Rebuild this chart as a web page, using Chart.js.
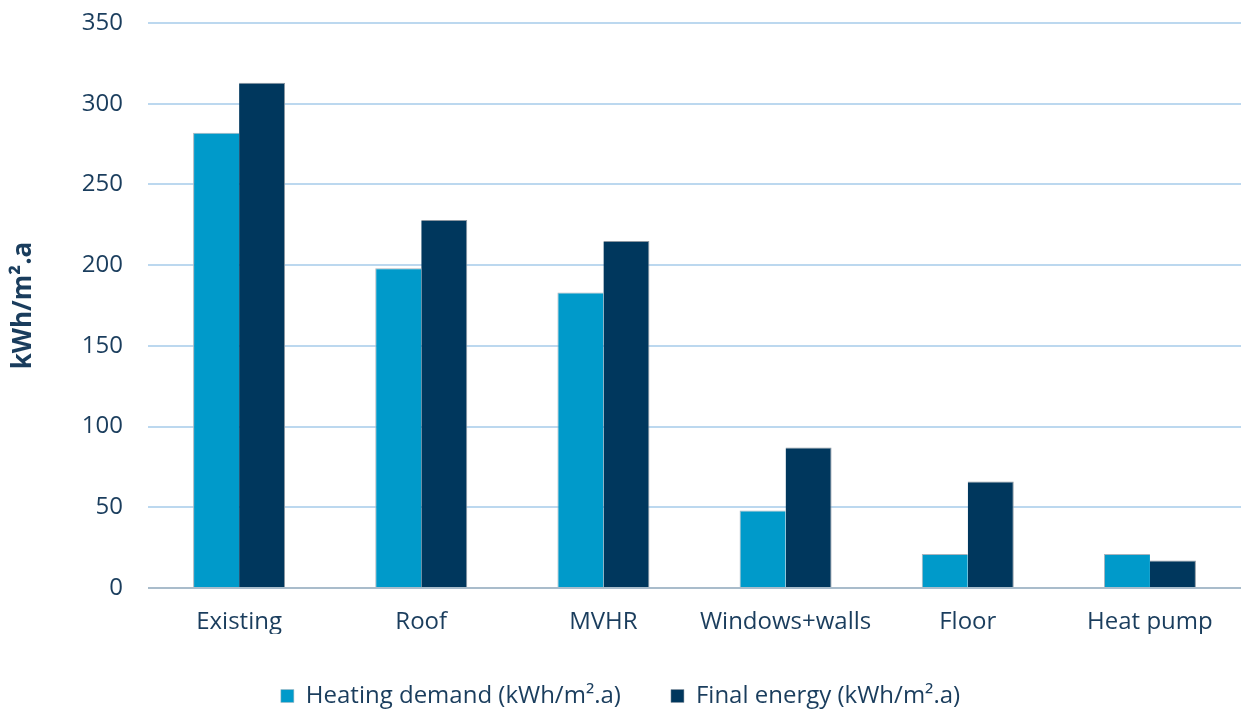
<!DOCTYPE html>
<html>
<head>
<meta charset="utf-8">
<title>Energy demand by retrofit step</title>
<script src="https://cdn.jsdelivr.net/npm/chart.js@4/dist/chart.umd.min.js"></script>
<style>
  html, body { margin: 0; padding: 0; background: #ffffff; }
  #wrap { width: 1241px; height: 711px; }
</style>
</head>
<body>
<div id="wrap"><canvas id="chart" width="1241" height="711"></canvas></div>
<script>
// Retrofit steps along the x axis
const categories = ['Existing', 'Roof', 'MVHR', 'Windows+walls', 'Floor', 'Heat pump'];

// Values in kWh/m².a
const heatingDemand = [282, 198, 183, 48, 21, 21];
const finalEnergy = [313, 228, 215, 87, 66, 17];

const seriesNames = ['Heating demand (kWh/m².a)', 'Final energy (kWh/m².a)'];
const yTicks = [0, 50, 100, 150, 200, 250, 300, 350];
const yTitle = 'kWh/m².a';

const textColor = '#1a3d5d';
const fontFamily = '"Open Sans", "Noto Sans", sans-serif';

new Chart(document.getElementById('chart'), {
  type: 'bar',
  data: {
    labels: categories,
    datasets: [
      {
        label: seriesNames[0],
        data: heatingDemand,
        backgroundColor: '#009aca',
        borderColor: '#a9b4bd',
        borderWidth: { top: 1, left: 1, right: 0, bottom: 0 },
        borderSkipped: 'bottom'
      },
      {
        label: seriesNames[1],
        data: finalEnergy,
        backgroundColor: '#00375d',
        borderColor: '#8c97a1',
        borderWidth: { top: 1, left: 0, right: 1, bottom: 0 },
        borderSkipped: 'bottom'
      }
    ]
  },
  options: {
    responsive: false,
    animation: false,
    layout: { padding: { top: 23, right: 0, left: 0, bottom: -7 } },
    datasets: {
      bar: { categoryPercentage: 0.505, barPercentage: 1.0 }
    },
    plugins: {
      legend: {
        position: 'bottom',
        labels: {
          color: textColor,
          font: { family: fontFamily, size: 24, lineHeight: 1 },
          boxWidth: 13,
          boxHeight: 13,
          padding: 50
        }
      },
      tooltip: { enabled: false }
    },
    scales: {
      x: {
        grid: { display: false, drawTicks: false },
        border: { display: false },
        ticks: {
          color: textColor,
          font: { family: fontFamily, size: 24, lineHeight: 1 },
          padding: 22,
          maxRotation: 0
        },
        afterFit: (scale) => { scale.height = 46; }
      },
      y: {
        min: 0,
        max: 350,
        afterBuildTicks: (scale) => { scale.ticks = yTicks.map(v => ({ value: v })); },
        grid: {
          color: (ctx) => ctx.tick && ctx.tick.value === 0 ? '#a9bccb' : '#bcd8ef',
          lineWidth: 2,
          drawTicks: false
        },
        border: { display: false },
        ticks: {
          color: textColor,
          font: { family: fontFamily, size: 24 },
          padding: 25
        },
        title: {
          display: true,
          text: yTitle,
          color: textColor,
          font: { family: fontFamily, size: 26, weight: 'bold' },
          padding: { top: 8, bottom: 0 }
        },
        afterFit: (scale) => {
          scale.width = 148;
          scale.paddingTop = 0;
          scale.paddingBottom = 0;
        }
      }
    }
  }
});
</script>
</body>
</html>
